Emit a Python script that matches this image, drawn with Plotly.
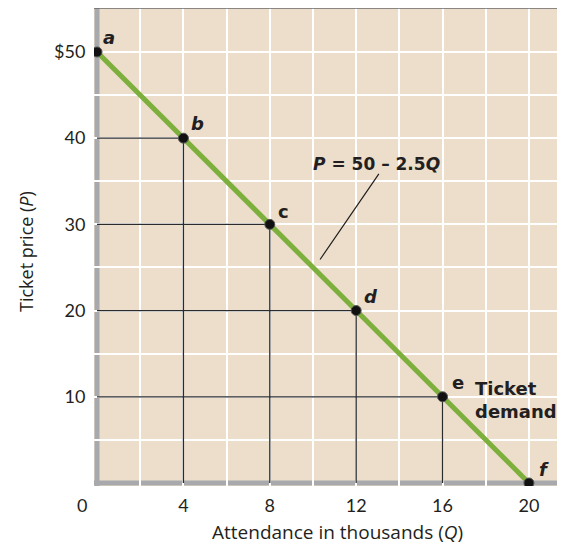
import plotly.graph_objects as go

# Data
Q = [0, 4, 8, 12, 16, 20]
P = [50, 40, 30, 20, 10, 0]
point_labels = ["a", "b", "c", "d", "e", "f"]
label_italic = [True, True, False, True, False, True]
x_ticks = [4, 8, 12, 16, 20]
x_ticktext = ["4", "8", "12", "16", "20"]
x_minor = [2, 6, 10, 14, 18]
y_ticks = [10, 20, 30, 40, 50]
y_ticktext = ["10", "20", "30", "40", "$50"]
y_minor = [5, 15, 25, 35, 45, 55]
guide_points = [1, 2, 3, 4]  # indices of b, c, d, e

BG = "#ECDECB"
GREEN = "#7DAF3D"
AXIS_GRAY = "#A7A9AC"
FONT = "Lato"
TITLE_FONT = "Open Sans"
BOLD = "DejaVu Sans"
TXT = "#231F20"

W, H = 557, 538
ml, mr, mt, mb = 86, 0, 0, 60
pw, ph = W - ml - mr, H - mt - mb
XR = [-0.14, 21.67]
YR = [-0.35, 55.1]


def px(fx):
    return (fx - ml) / pw


def py(fy):
    return (H - mb - fy) / ph


fig = go.Figure()

# guide lines
for i in guide_points:
    fig.add_trace(go.Scatter(
        x=[0, Q[i], Q[i]], y=[P[i], P[i], 0], mode="lines",
        line=dict(color="#2B2B2B", width=1.3), hoverinfo="skip", showlegend=False))

# demand line
fig.add_trace(go.Scatter(x=Q, y=P, mode="lines",
                         line=dict(color=GREEN, width=5), showlegend=False))
# points
fig.add_trace(go.Scatter(x=Q, y=P, mode="markers",
                         marker=dict(color="#111111", size=10, line=dict(color="#555555", width=1)),
                         showlegend=False))

# gray axes
fig.add_shape(type="line", xref="x", yref="y", x0=0, x1=0, y0=YR[0], y1=YR[1],
              line=dict(color=AXIS_GRAY, width=5), layer="below")
fig.add_shape(type="line", xref="x", yref="y", x0=XR[0], x1=XR[1], y0=0, y1=0,
              line=dict(color=AXIS_GRAY, width=5), layer="below")
# top border
fig.add_shape(type="line", xref="paper", yref="paper", x0=0, x1=1, y0=1, y1=1,
              line=dict(color="#6A6A6A", width=1.5))

annotations = []
offsets = [(12, 14), (14, 15), (14, 13), (15, 14), (15, 14), (15, 13)]
for q, p, lab, it, (dx, dy) in zip(Q, P, point_labels, label_italic, offsets):
    txt = f"<b><i>{lab}</i></b>" if it else f"<b>{lab}</b>"
    annotations.append(dict(x=q, y=p, xref="x", yref="y", text=txt, showarrow=False,
                            xshift=dx, yshift=dy, font=dict(family=BOLD, size=18, color=TXT)))

# equation label + leader
annotations.append(dict(x=13.05, y=35.85, xref="x", yref="y", ax=10.28, ay=25.75,
                        axref="x", ayref="y", text="", showarrow=True, arrowhead=0,
                        arrowwidth=1.2, arrowcolor="#231F20"))
annotations.append(dict(x=12.96, y=37.0, xref="x", yref="y",
                        text="<b><i>P</i> = 50 – 2.5<i>Q</i></b>", showarrow=False,
                        xanchor="center", yanchor="middle",
                        font=dict(family=BOLD, size=17, color=TXT)))
annotations.append(dict(x=16, y=10, xref="x", yref="y", xanchor="left", yanchor="middle",
                        text="<b>Ticket<br>demand</b>", showarrow=False, align="left",
                        xshift=30, yshift=-3,
                        font=dict(family=BOLD, size=18, color=TXT)))
# zero label
annotations.append(dict(x=0, y=0, xref="x", yref="y", text="0", showarrow=False,
                        xanchor="center", yanchor="middle",
                        xshift=-15, yshift=-22, font=dict(family=FONT, size=18, color=TXT)))
# axis titles
annotations.append(dict(x=px(329), y=py(524), xref="paper", yref="paper",
                        xanchor="center", yanchor="middle",
                        text="Attendance in thousands (<i>Q</i>)",
                        showarrow=False, font=dict(family=TITLE_FONT, size=19, color=TXT)))
annotations.append(dict(x=px(18), y=py(244), xref="paper", yref="paper",
                        xanchor="center", yanchor="middle",
                        text="Ticket price (<i>P</i>)", textangle=-90, showarrow=False,
                        font=dict(family=TITLE_FONT, size=18, color=TXT)))

fig.update_layout(
    annotations=annotations,
    width=W, height=H,
    margin=dict(l=ml, r=mr, t=mt, b=mb, autoexpand=False),
    paper_bgcolor="white", plot_bgcolor=BG,
    font=dict(family=FONT, size=18, color=TXT),
    xaxis=dict(range=XR, tickvals=x_ticks, ticktext=x_ticktext,
               showgrid=True, gridcolor="white", gridwidth=1.5, zeroline=False, showline=False,
               ticks="outside", ticklen=3, tickcolor="rgba(0,0,0,0)",
               minor=dict(tickvals=x_minor, showgrid=True, gridcolor="white", gridwidth=1.5),
               tickfont=dict(family=FONT, size=18, color=TXT), fixedrange=True),
    yaxis=dict(range=YR, tickvals=y_ticks, ticktext=y_ticktext,
               showgrid=True, gridcolor="white", gridwidth=1.5, zeroline=False, showline=False,
               ticks="outside", ticklen=4, tickcolor="rgba(0,0,0,0)",
               minor=dict(tickvals=y_minor, showgrid=True, gridcolor="white", gridwidth=1.5),
               tickfont=dict(family=FONT, size=18, color=TXT), fixedrange=True),
    showlegend=False,
)

fig.write_html("out.html")
